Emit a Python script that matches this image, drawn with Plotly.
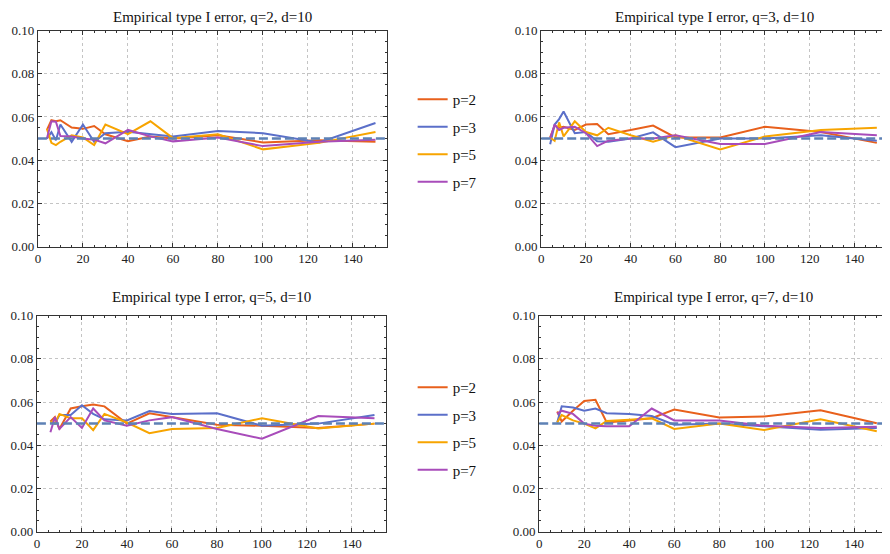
import plotly.graph_objects as go

# ---------------- data ----------------
panel_titles = ["Empirical type I error, q=2, d=10", "Empirical type I error, q=3, d=10",
                "Empirical type I error, q=5, d=10", "Empirical type I error, q=7, d=10"]
series_names = ["p=2", "p=3", "p=5", "p=7"]
alpha = 0.05

x_q2 = [4, 6, 8, 10, 15, 20, 25, 30, 40, 50, 60, 80, 100, 125, 150]
x_q3 = [4, 6, 8, 10, 15, 20, 25, 30, 40, 50, 60, 80, 100, 125, 150]
x_q5 = [6, 8, 10, 15, 20, 25, 30, 40, 50, 60, 80, 100, 125, 150]
x_q7 = [8, 10, 15, 20, 25, 30, 40, 50, 60, 80, 100, 125, 150]

# q=2
q2_p2 = [0.0540, 0.0585, 0.0580, 0.0585, 0.0551, 0.0545, 0.0558, 0.0520, 0.0488, 0.0510, 0.0500, 0.0515, 0.0482, 0.0492, 0.0485]
q2_p3 = [0.0500, 0.0530, 0.0492, 0.0565, 0.0485, 0.0565, 0.0485, 0.0525, 0.0532, 0.0522, 0.0510, 0.0535, 0.0525, 0.0482, 0.0572]
q2_p5 = [0.0545, 0.0480, 0.0470, 0.0485, 0.0515, 0.0505, 0.0470, 0.0565, 0.0520, 0.0580, 0.0502, 0.0520, 0.0450, 0.0480, 0.0530]
q2_p7 = [0.0500, 0.0580, 0.0578, 0.0512, 0.0510, 0.0500, 0.0495, 0.0478, 0.0540, 0.0510, 0.0487, 0.0505, 0.0465, 0.0485, 0.0495]
# q=3
q3_p2 = [0.0505, 0.0560, 0.0550, 0.0555, 0.0540, 0.0565, 0.0567, 0.0520, 0.0540, 0.0560, 0.0505, 0.0505, 0.0555, 0.0530, 0.0480]
q3_p3 = [0.0474, 0.0565, 0.0590, 0.0625, 0.0525, 0.0530, 0.0487, 0.0485, 0.0500, 0.0529, 0.0460, 0.0500, 0.0500, 0.0515, 0.0490]
q3_p5 = [0.0505, 0.0490, 0.0575, 0.0510, 0.0580, 0.0530, 0.0515, 0.0550, 0.0515, 0.0485, 0.0515, 0.0450, 0.0510, 0.0540, 0.0550]
q3_p7 = [0.0500, 0.0565, 0.0540, 0.0550, 0.0555, 0.0525, 0.0465, 0.0490, 0.0500, 0.0500, 0.0515, 0.0475, 0.0475, 0.0530, 0.0515]
# q=5
q5_p2 = [0.0510, 0.0530, 0.0475, 0.0570, 0.0580, 0.0588, 0.0580, 0.0500, 0.0548, 0.0530, 0.0495, 0.0490, 0.0480, 0.0500]
q5_p3 = [0.0510, 0.0500, 0.0540, 0.0540, 0.0585, 0.0545, 0.0520, 0.0515, 0.0558, 0.0545, 0.0548, 0.0490, 0.0500, 0.0540]
q5_p5 = [0.0510, 0.0500, 0.0545, 0.0525, 0.0525, 0.0470, 0.0545, 0.0505, 0.0456, 0.0475, 0.0480, 0.0525, 0.0477, 0.0500]
q5_p7 = [0.0460, 0.0530, 0.0475, 0.0530, 0.0480, 0.0570, 0.0515, 0.0490, 0.0515, 0.0530, 0.0475, 0.0430, 0.0535, 0.0525]
# q=7
q7_p2 = [0.0556, 0.0510, 0.0560, 0.0605, 0.0610, 0.0505, 0.0515, 0.0525, 0.0565, 0.0528, 0.0533, 0.0562, 0.0502]
q7_p3 = [0.0505, 0.0580, 0.0575, 0.0560, 0.0570, 0.0548, 0.0545, 0.0535, 0.0495, 0.0500, 0.0488, 0.0472, 0.0480]
q7_p5 = [0.0505, 0.0540, 0.0515, 0.0500, 0.0478, 0.0512, 0.0518, 0.0525, 0.0475, 0.0500, 0.0470, 0.0520, 0.0465]
q7_p7 = [0.0545, 0.0560, 0.0545, 0.0500, 0.0490, 0.0488, 0.0488, 0.0570, 0.0515, 0.0515, 0.0490, 0.0480, 0.0485]

x_ticks = [0, 20, 40, 60, 80, 100, 120, 140]
y_ticks = [0.00, 0.02, 0.04, 0.06, 0.08, 0.10]

panels = [
    (x_q2, [q2_p2, q2_p3, q2_p5, q2_p7]),
    (x_q3, [q3_p2, q3_p3, q3_p5, q3_p7]),
    (x_q5, [q5_p2, q5_p3, q5_p5, q5_p7]),
    (x_q7, [q7_p2, q7_p3, q7_p5, q7_p7]),
]

# ---------------- style ----------------
W, H = 890, 554
colors = ["#E8601C", "#5B6FC9", "#F7A400", "#A84CBA"]
ref_color = "#5E81B5"
FONT = "Liberation Serif"

# plot frames in pixels: (left, right, top, bottom, title_center_y)
frames = [(27, 377, 16, 238, 2), (532, 880, 16, 238, 2),
          (26, 376, 309, 531, 290), (530, 880, 309, 531, 290)]

fig = go.Figure()
for i, ((xs, ys_list), (l, r, t, b, ty)) in enumerate(zip(panels, frames)):
    k = "" if i == 0 else str(i + 1)
    xa, ya = "x" + k, "y" + k
    leg = "legend" if i == 0 else ("legend2" if i == 2 else None)
    for j, ys in enumerate(ys_list):
        fig.add_trace(go.Scatter(
            x=xs, y=ys, mode="lines", name=series_names[j],
            line=dict(color=colors[j], width=2),
            xaxis=xa, yaxis=ya,
            showlegend=leg is not None,
            legend=leg if leg else "legend",
            legendgroup=f"g{i}_{j}",
        ))
    fig.add_shape(type="line", xref=f"{xa} domain", yref=ya, x0=0, x1=1, y0=alpha, y1=alpha,
                  line=dict(color=ref_color, width=2.5, dash="9px,4px"), layer="above")
    axcommon = dict(showline=True, linecolor="#333333", linewidth=1, mirror="allticks",
                    ticks="inside", ticklen=4, tickcolor="#333333",
                    showgrid=True, gridcolor="#C4C4C4", griddash="dot", gridwidth=1,
                    zeroline=False, tickfont=dict(family=FONT, size=13, color="#222222"))
    fig.layout["xaxis" + k] = dict(axcommon, domain=[l / W, r / W], range=[0, 155], anchor=ya,
                                   tickvals=x_ticks,
                                   minor=dict(ticks="inside", ticklen=2, dtick=5, tick0=0, tickcolor="#333333", showgrid=False))
    fig.layout["yaxis" + k] = dict(axcommon, domain=[1 - b / H, 1 - t / H], range=[0, 0.1], anchor=xa,
                                   tickvals=y_ticks, tickformat=".2f",
                                   minor=dict(ticks="inside", ticklen=2, dtick=0.005, tick0=0, tickcolor="#333333", showgrid=False))
    fig.add_annotation(text=panel_titles[i], xref="paper", yref="paper",
                       x=(l + r) / 2 / W, y=1 - ty / H, showarrow=False,
                       font=dict(family=FONT, size=15, color="#111111"), xanchor="center", yanchor="middle")

legcommon = dict(font=dict(family=FONT, size=15, color="#111111"), tracegroupgap=5,
                 bgcolor="rgba(0,0,0,0)", xanchor="left", yanchor="top", traceorder="grouped",
                 itemwidth=30)
fig.update_layout(
    width=W, height=H, margin=dict(l=0, r=0, t=0, b=0),
    plot_bgcolor="white", paper_bgcolor="white",
    legend=dict(legcommon, x=403 / W, y=1 - 70 / H),
    legend2=dict(legcommon, x=403 / W, y=1 - 366 / H),
)

fig.write_html("out.html")
